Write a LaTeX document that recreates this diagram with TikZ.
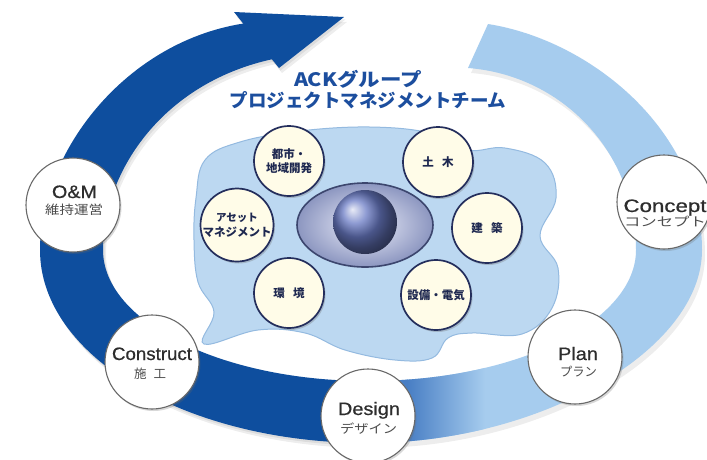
\documentclass[tikz,border=0pt]{standalone}
\usepackage{fontspec}
\setmainfont{Liberation Sans}
\newfontfamily\jp{Noto Sans CJK JP}
\newfontfamily\medsans{Liberation Sans}[FakeBold=0.6]
\usetikzlibrary{shadows}

\definecolor{ringdark}{RGB}{14,78,158}
\definecolor{ringlight}{RGB}{166,204,238}
\definecolor{ringmid}{RGB}{72,126,196}
\definecolor{blobfill}{RGB}{188,216,241}
\definecolor{blobedge}{RGB}{148,186,224}
\definecolor{titleblue}{RGB}{28,78,158}
\definecolor{cream}{RGB}{255,252,232}
\definecolor{navy}{RGB}{36,46,92}
\definecolor{teamtext}{RGB}{30,40,80}
\definecolor{phaseedge}{RGB}{105,105,105}
\definecolor{phasetext}{RGB}{45,45,45}
\definecolor{subtext}{RGB}{75,75,75}
\definecolor{eyeinner}{RGB}{236,238,250}
\definecolor{eyeouter}{RGB}{140,150,192}
\definecolor{eyerim}{RGB}{60,70,110}
\definecolor{ballblue}{RGB}{105,122,196}

% stretch a label horizontally to a given width, keeping its height
\newcommand{\hstretch}[2]{\resizebox{#1}{\height}{#2}}

% outline of the dark (left) half of the cycle, ending in the arrow shaft
\newcommand{\darkbandpath}{(368,443) .. controls (187,443) and (40,357) .. (40,250)
  .. controls (40,150) and (130,35) .. (255,22) -- (278,58)
  .. controls (165,80) and (103,170) .. (103,250)
  .. controls (103,322) and (222,381) .. (368,381) -- cycle}
% outline of the light (right) half of the cycle
\newcommand{\lightbandpath}{(488,24) .. controls (590,40) and (702,130) .. (702,250)
  .. controls (702,350) and (540,443) .. (368,443) -- (368,381)
  .. controls (520,381) and (636,320) .. (636,250)
  .. controls (636,150) and (560,75) .. (468,68) -- cycle}
\newcommand{\arrowheadpath}{(234,12) -- (344,17) -- (279,68) -- cycle}

\begin{document}
\begin{tikzpicture}[x=1pt, y=-1pt,
  phase/.style={circle, draw=phaseedge, line width=1.1pt, fill=white,
    minimum size=94pt, inner sep=0pt,
    drop shadow={shadow xshift=1.5pt, shadow yshift=-2pt, opacity=.25, fill=black!60}},
  team/.style={circle, draw=navy, line width=1.7pt, fill=cream,
    minimum size=70pt, inner sep=0pt, align=center, text=teamtext,
    font=\jp\bfseries\fontsize{11.5}{14.5}\selectfont,
    drop shadow={shadow xshift=1.5pt, shadow yshift=-2pt, opacity=.3, fill=black!60}},
  phaseen/.style={anchor=base, inner sep=0pt, text=phasetext,
    font=\medsans\fontsize{18}{18}\selectfont},
  phasejp/.style={inner sep=0pt, text=subtext,
    font=\jp\fontsize{12.5}{13}\selectfont},
  titletext/.style={inner sep=0pt, text=titleblue,
    font=\jp\bfseries\fontsize{18.5}{20}\selectfont}]

\useasboundingbox (0,0) rectangle (707,459);
\fill[white] (0,0) rectangle (707,459);

% central team area
\draw[fill=blobfill, draw=blobedge, line width=1pt]
  plot[smooth cycle, tension=0.65] coordinates {
    (205,160) (240,142) (300,131) (370,127) (430,133) (468,150) (505,148)
    (545,163) (556,198) (540,236) (558,268) (552,308) (522,334) (472,333)
    (448,338) (432,358) (395,360) (345,350) (305,333) (258,330) (204,344)
    (214,312) (198,282) (194,240) (196,198)};

% soft shadows under the cycle bands
\begin{scope}[shift={(3,5)}]
  \fill[black, opacity=.07] \darkbandpath;
  \fill[black, opacity=.07] \arrowheadpath;
  \begin{scope}
    \clip (0,0) -- (707,0) -- (707,293) -- (573,459) -- (0,459) -- cycle;
    \fill[black, opacity=.07] \lightbandpath;
  \end{scope}
\end{scope}
\begin{scope}[shift={(1.5,2.5)}]
  \fill[black, opacity=.07] \darkbandpath;
  \fill[black, opacity=.07] \arrowheadpath;
\end{scope}

% light half of the cycle, darkening towards Design
\begin{scope}
  \clip (0,0) -- (707,0) -- (707,293) -- (573,459) -- (0,459) -- cycle;
  \fill[ringlight] \lightbandpath;
  \clip \lightbandpath;
  \fill[ringmid] (340,330) rectangle (408,459);
  \shade[left color=ringmid, right color=ringlight] (407,330) rectangle (485,459);
\end{scope}

% dark half of the cycle with its arrow
\fill[ringdark] \darkbandpath;
\fill[ringdark] \arrowheadpath;

% title
\node[titletext] (title1) at (358,79) {\hstretch{128pt}{ACKグループ}};
\node[titletext] (title2) at (368,100) {プロジェクトマネジメントチーム};

% eye and sphere in the middle
\shade[inner color=eyeinner, outer color=eyeouter] (365,225) ellipse (68 and 42);
\draw[draw=eyerim, line width=1.6pt] (365,225) ellipse (68 and 42);
\shade[ball color=ballblue] (365,222) circle (32);

% disciplines
\node[team] (toshi) at (289,161) {都市・\\地域開発};
\node[team] (doboku) at (438,162) {土\hspace{0.7em}木};
\node[team] (asset) at (237,225) {\fontsize{10.5}{13.5}\selectfont アセット\\マネジメント};
\node[team] (kenchiku) at (487,228) {建\hspace{0.7em}築};
\node[team] (kankyo) at (289,293) {環\hspace{0.7em}境};
\node[team] (setsubi) at (436,295) {設備・電気};

% phases of the cycle
\node[phase] (om) at (73,205) {};
\node[phase] (construct) at (152,362) {};
\node[phase] (design) at (368,416) {};
\node[phase] (plan) at (575,357) {};
\node[phase] (concept) at (664,202) {};

\node[phaseen] (omen) at (74.5,198) {\hstretch{45pt}{O\&M}};
\node[phasejp] (omjp) at (74,209.5) {\hstretch{58pt}{維持運営}};
\node[phaseen] (constructen) at (152,360) {\hstretch{80pt}{Construct}};
\node[phasejp] (constructjp) at (150,374) {施\hspace{7pt}工};
\node[phaseen] (designen) at (369,415) {\hstretch{62pt}{Design}};
\node[phasejp] (designjp) at (368.5,428.5) {\hstretch{57pt}{デザイン}};
\node[phaseen] (planen) at (578,360) {\hstretch{40pt}{Plan}};
\node[phasejp] (planjp) at (578.5,371.5) {\hstretch{37pt}{プラン}};
\node[phaseen] (concepten) at (665,212) {\hstretch{83pt}{Concept}};
\node[phasejp] (conceptjp) at (665,221.5) {\hstretch{82pt}{コンセプト}};
\end{tikzpicture}
\end{document}
